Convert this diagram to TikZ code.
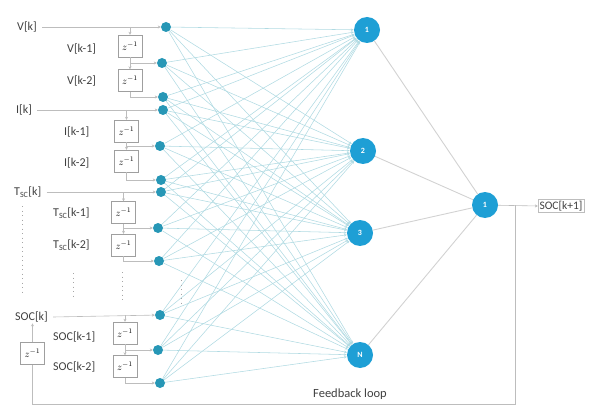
\documentclass[tikz,border=0pt]{standalone}
\usepackage{fontspec}
\setmainfont{Carlito}
\usetikzlibrary{arrows.meta}
\definecolor{inc}{HTML}{2797B6}
\definecolor{hid}{HTML}{1E9FD5}
\definecolor{edge}{HTML}{B0DAE2}
\definecolor{txt}{HTML}{404040}
\definecolor{lgray}{HTML}{BDBDBD}
\begin{document}
\begin{tikzpicture}[x=1pt,y=-1pt,
  inp/.style={circle,fill=inc,minimum size=10pt,inner sep=0pt},
  hidn/.style={circle,fill=hid,minimum size=26pt,inner sep=0pt,text=white,font=\fontsize{8}{8}\selectfont\bfseries},
  zbox/.style={draw=gray!75,fill=white,minimum width=24pt,minimum height=22pt,inner sep=0pt,font=\fontsize{10}{10}\selectfont},
  lbl/.style={text=txt,font=\fontsize{12}{14}\selectfont,inner sep=1pt,anchor=west},
  wire/.style={draw=lgray,line width=0.6pt},
  conn/.style={draw=edge,line width=0.55pt,-{Stealth[length=3pt,width=2.5pt]}},
  outw/.style={draw=gray!35,line width=0.9pt},
  tip/.style={-{Stealth[length=3pt,width=3pt]}},
  dotcol/.style={draw=gray!70,line width=0.9pt,dash pattern=on 1pt off 3.5pt}
]
\useasboundingbox (0,0) rectangle (591,406);

% input circles
\node[inp] (v0) at (166,27) {};
\node[inp] (v1) at (162,63) {};
\node[inp] (v2) at (163,97) {};
\node[inp] (i0) at (163,110) {};
\node[inp] (i1) at (160,146) {};
\node[inp] (i2) at (161,180) {};
\node[inp] (t0) at (161,192) {};
\node[inp] (t1) at (158,228) {};
\node[inp] (t2) at (159,261) {};
\node[inp] (s0) at (160,315) {};
\node[inp] (s1) at (158,350) {};
\node[inp] (s2) at (160,383) {};

% hidden and output
\node[hidn] (h1) at (367,30) {1};
\node[hidn] (h2) at (363,151) {2};
\node[hidn] (h3) at (360,233) {3};
\node[hidn] (hN) at (360,355) {N};
\node[hidn] (o) at (485,205) {1};

% labels
\node[lbl] (lv0) at (16,27) {V[k]};
\node[lbl] (lv1) at (66,49) {V[k-1]};
\node[lbl] (lv2) at (66,81) {V[k-2]};
\node[lbl] (li0) at (15,110) {I[k]};
\node[lbl] (li1) at (63,132) {I[k-1]};
\node[lbl] (li2) at (63,163) {I[k-2]};
\node[lbl] (lt0) at (13,192) {T\textsubscript{SC}[k]};
\node[lbl] (lt1) at (52,213) {T\textsubscript{SC}[k-1]};
\node[lbl] (lt2) at (52,245) {T\textsubscript{SC}[k-2]};
\node[lbl] (ls0) at (14,317) {SOC[k]};
\node[lbl] (ls1) at (52,337) {SOC[k-1]};
\node[lbl] (ls2) at (52,367) {SOC[k-2]};

% delay boxes
\node[zbox] (zv1) at (130,46) {$z^{-1}$};
\node[zbox] (zv2) at (130,80.5) {$z^{-1}$};
\node[zbox] (zi1) at (126.5,131) {$z^{-1}$};
\node[zbox] (zi2) at (126.5,161) {$z^{-1}$};
\node[zbox] (zt1) at (123.5,212.5) {$z^{-1}$};
\node[zbox] (zt2) at (123.5,245) {$z^{-1}$};
\node[zbox] (zs1) at (125,333) {$z^{-1}$};
\node[zbox] (zs2) at (125,366.5) {$z^{-1}$};
\node[zbox] (zf) at (32.5,353.5) {$z^{-1}$};

% output box
\node[draw=lgray,fill=white,text=txt,font=\fontsize{11.5}{13}\selectfont,inner sep=1.5pt,minimum height=13pt] (out) at (561,206) {SOC[k+1]};

% feedback label
\node[text=txt,font=\fontsize{12.5}{14}\selectfont] (fbl) at (350,394) {Feedback loop};

% input-to-hidden connections
\foreach \a in {v0,v1,v2,i0,i1,i2,t0,t1,t2,s0,s1,s2}{
  \foreach \b in {h1,h2,h3,hN}{
    \draw[conn] (\a) -- (\b);
  }
}

% hidden-to-output
\foreach \b in {h1,h2,h3,hN}{
  \draw[outw] (\b) -- (o);
}

% direct input wires
\draw[wire,tip] (lv0.east) ++(4,0) coordinate (cv0) -- (v0);
\draw[wire,tip] (li0.east) ++(4,0) coordinate (ci0) -- (i0);
\draw[wire,tip] (lt0.east) ++(4,0) coordinate (ct0) -- (t0);
\draw[wire,tip] (ls0.east) ++(4,0) coordinate (cs0) -- (s0);

% delay chains
\foreach \z/\y in {zv1/27,zi1/110,zt1/192,zs1/315}{
  \draw[wire,tip] (\z.north |- 0,\y) -- (\z.north);
}
\draw[wire,tip] (zv1.south) -- (zv2.north);
\draw[wire,tip] (zi1.south) -- (zi2.north);
\draw[wire,tip] (zt1.south) -- (zt2.north);
\draw[wire,tip] (zs1.south) -- (zs2.north);
\draw[wire,tip] (zv1.south |- v1) -- (v1);
\draw[wire,tip] (zi1.south |- i1) -- (i1);
\draw[wire,tip] (zt1.south |- t1) -- (t1);
\draw[wire,tip] (zs1.south |- s1) -- (s1);
\draw[wire,tip] (zv2.south) |- (v2);
\draw[wire,tip] (zi2.south) |- (i2);
\draw[wire,tip] (zt2.south) |- (t2);
\draw[wire,tip] (zs2.south) |- (s2);

% output and feedback loop
\coordinate (fb) at (515,205);
\draw[wire,tip] (o) -- (out.west);
\draw[wire] (fb) -- (515,404) -- (32.5,404) -- (zf.south);
\draw[wire,tip] (zf.north) -- (zf.north |- ls0.south);

% ellipsis dots
\draw[dotcol] (22,206) -- (22,292);
\draw[dotcol] (73,273) -- (73,297);
\draw[dotcol] (122,272) -- (122,301);
\draw[dotcol] (181,280) -- (181,304);
\end{tikzpicture}
\end{document}
